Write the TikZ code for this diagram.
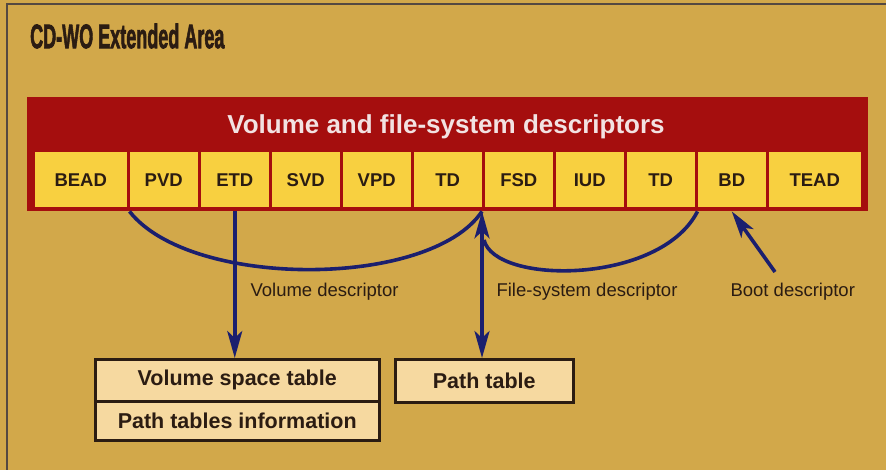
\documentclass[tikz,border=0pt]{standalone}
\usepackage{fontspec}
\setmainfont{Liberation Sans}
\newfontfamily\heavyfont[BoldFeatures={FakeBold=2.5}]{Liberation Sans}
\usetikzlibrary{arrows.meta}
\definecolor{bg}{HTML}{D2A84A}
\definecolor{band}{HTML}{A50E0E}
\definecolor{cell}{HTML}{F8D040}
\definecolor{boxfill}{HTML}{F6D9A0}
\definecolor{navy}{HTML}{1B1F6E}
\definecolor{ink}{HTML}{2B1C12}
\definecolor{pinkwhite}{HTML}{F2E2E2}
\begin{document}
\begin{tikzpicture}[x=1pt,y=-1pt,
 cellbox/.style={draw=band, line width=2.5pt, fill=cell, minimum height=57pt, inner sep=0pt, anchor=north west, font=\fontsize{18.5}{18.5}\selectfont\bfseries, text=ink},
 tablebox/.style={draw=ink, line width=2.5pt, fill=boxfill, inner sep=0pt, anchor=north west, font=\fontsize{21.5}{21.5}\selectfont\bfseries, text=ink},
 lbl/.style={font=\fontsize{18.5}{18.5}\selectfont, text=ink, anchor=west},
 link/.style={draw=navy, line width=3.6pt},
 tip/.style={-{Stealth[length=27pt,width=15pt,inset=7pt]}},
 dtip/.style={{Stealth[length=27pt,width=15pt,inset=7pt]}-{Stealth[length=27pt,width=15pt,inset=7pt]}}
]
\useasboundingbox (0,0) rectangle (886,470);
\fill[bg] (0,0) rectangle (886,470);
\draw[ink!80, line width=1.5pt] (7,470) -- (7,4) -- (886,4);

\node[anchor=west, text=ink, inner sep=0pt] (title) at (30,36) {\scalebox{0.53}[1]{\fontsize{34}{34}\selectfont\heavyfont\bfseries CD-WO Extended Area}};

\node[fill=band, minimum width=841pt, minimum height=114pt, inner sep=0pt, anchor=north west] (band) at (27,97) {};
\node[text=pinkwhite, font=\fontsize{26}{26}\selectfont\bfseries] (bandtitle) at (446,127) {Volume and file-system descriptors};

\node[cellbox, minimum width=95pt] (bead) at (32,150) {BEAD};
\node[cellbox, minimum width=71pt] (pvd) at (127,150) {PVD};
\node[cellbox, minimum width=71pt] (etd) at (198,150) {ETD};
\node[cellbox, minimum width=71pt] (svd) at (269,150) {SVD};
\node[cellbox, minimum width=71pt] (vpd) at (340,150) {VPD};
\node[cellbox, minimum width=71pt] (td1) at (411,150) {TD};
\node[cellbox, minimum width=71pt] (fsd) at (482,150) {FSD};
\node[cellbox, minimum width=71pt] (iud) at (553,150) {IUD};
\node[cellbox, minimum width=71pt] (td2) at (624,150) {TD};
\node[cellbox, minimum width=71pt] (bd) at (695,150) {BD};
\node[cellbox, minimum width=95pt] (tead) at (766,150) {TEAD};

\node[tablebox, minimum width=284pt, minimum height=42pt] (vst) at (94,358) {Volume space table};
\node[tablebox, minimum width=284pt, minimum height=39pt] (pti) at (94,400) {Path tables information};
\node[tablebox, minimum width=178pt, minimum height=43pt] (pt) at (394,358) {Path table};

\draw[link] (bead.south east |- band.south) .. controls (190,289) and (430,289) .. (fsd.south west |- band.south);
\coordinate (c2) at (484,240);
\draw[link] (c2) .. controls (495,285) and (660,285) .. (td2.south east |- band.south);
\draw[link, tip] (etd.south |- band.south) -- (etd.south |- vst.north);
\draw[link, dtip] (fsd.south west |- band.south) -- (fsd.south west |- pt.north);
\coordinate (boottail) at (775,272);
\draw[link, tip] (boottail) -- (bd.south |- band.south);

\node[lbl] (lv) at (247,292) {Volume descriptor};
\node[lbl] (lf) at (493,292) {File-system descriptor};
\node[lbl] (lb) at (727,292) {Boot descriptor};
\end{tikzpicture}
\end{document}
